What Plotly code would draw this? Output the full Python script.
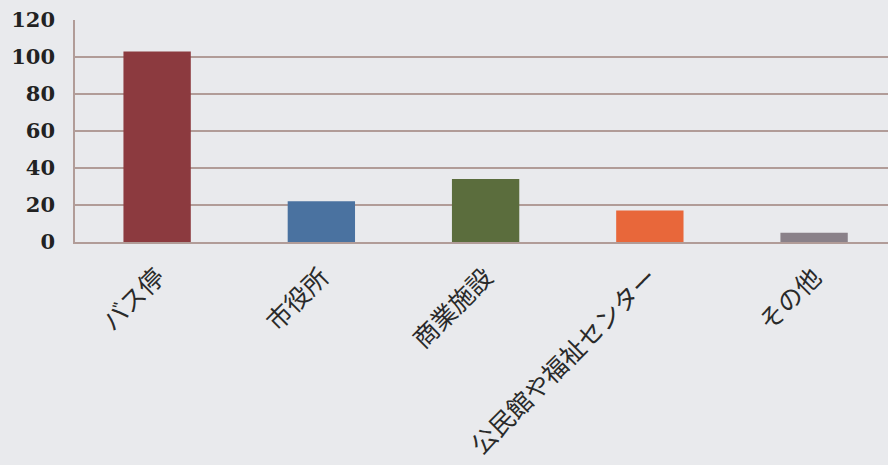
import plotly.graph_objects as go

categories = ["バス停", "市役所", "商業施設", "公民館や福祉センター", "その他"]
values = [103, 22, 34, 17, 5]
bar_colors = ["#8c3a3f", "#4a72a0", "#5b6d3d", "#e8673a", "#8a8189"]
y_ticks = [0, 20, 40, 60, 80, 100, 120]

bg = "#e9eaed"
grid = "#b19c98"

fig = go.Figure(
    go.Bar(
        x=categories,
        y=values,
        marker=dict(color=bar_colors, line=dict(width=0)),
        width=0.41,
    )
)

fig.update_layout(
    width=888,
    height=465,
    margin=dict(l=75, r=0, t=20, b=223),
    paper_bgcolor=bg,
    plot_bgcolor=bg,
    showlegend=False,
)

fig.update_xaxes(
    range=[-0.5, 4.45],
    tickangle=-45,
    tickfont=dict(family="Noto Sans CJK JP", size=25, color="#2a2a2a"),
    showgrid=False,
    showline=True,
    linecolor=grid,
    linewidth=1.5,
    ticks="",
    ticklabelstandoff=9,
    automargin=False,
)

fig.update_yaxes(
    range=[0, 120],
    tickvals=y_ticks,
    tickfont=dict(family="DejaVu Serif", size=21, color="#222222", weight="bold"),
    showgrid=True,
    gridcolor=grid,
    gridwidth=1.5,
    zeroline=False,
    showline=True,
    linecolor=grid,
    linewidth=1.5,
    ticks="",
    ticklabelstandoff=14,
    automargin=False,
)

fig.write_html("out.html")
